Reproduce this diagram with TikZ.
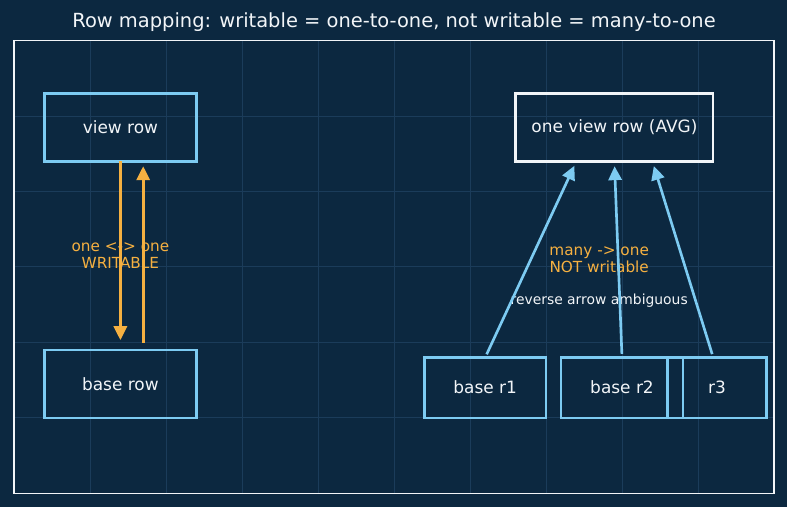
\documentclass[tikz,border=0pt]{standalone}
\usepackage{fontspec}
\setmainfont{DejaVu Sans}
\usetikzlibrary{arrows.meta,calc}

\definecolor{bgnavy}{HTML}{0C2840}
\definecolor{gridblue}{HTML}{1B3C5A}
\definecolor{rowblue}{HTML}{7DCBF2}
\definecolor{amber}{HTML}{F5B041}
\definecolor{paper}{HTML}{F2F5F8}

\begin{document}
\begin{tikzpicture}[x=54.72pt, y=54.29pt,
  every node/.style={font=\fontsize{12.2}{14}\selectfont, text=paper, inner sep=0pt, outer sep=0pt},
  rowbox/.style={draw=rowblue, line width=1.7pt, minimum width=87.6pt, minimum height=43.4pt},
  wide/.style={minimum width=109.4pt, minimum height=48.9pt},
  amberarr/.style={draw=amber, line width=1.9pt, -{Triangle[length=10pt,width=9.5pt]}},
  bluearr/.style={draw=rowblue, line width=1.9pt, -{Triangle[length=10pt,width=9.5pt]}, shorten <=2.5pt, shorten >=3.5pt},
  tag/.style={align=center, text=amber, font=\fontsize{11}{12.5}\selectfont}]
  \fill[bgnavy] (-0.184,-0.186) rectangle (10.171,6.54);
  \useasboundingbox (-0.184,-0.186) rectangle (10.171,6.54);
  \draw[gridblue, line width=0.7pt, step=1] (0,0) grid (10,6);
  \draw[paper, line width=0.8pt] (0,0) rectangle (10,6);
  \node[font=\fontsize{14}{16}\selectfont] (title) at (5,6.25) {Row mapping: writable = one-to-one, not writable = many-to-one};

  \node[rowbox, wide] (viewrow) at (1.4,4.85) {view row};
  \node[rowbox, wide] (baserow) at (1.4,1.45) {base row};
  \node[rowbox, wide, draw=paper, minimum width=142.3pt] (avgrow) at (7.9,4.85) {one view row (AVG)};
  \node[rowbox] (baseone) at (6.2,1.4) {base r1};
  \node[rowbox] (basetwo) at (8.0,1.4) {base r2};
  \node[rowbox, minimum width=71.1pt] (basethree) at (9.25,1.4) {r3};

  \node[tag] (onelabel) at (1.4,3.15) {one <-> one\\WRITABLE};
  \node[tag] (manylabel) at (7.7,3.1) {many -> one\\NOT writable};
  \node[font=\fontsize{10}{12}\selectfont] (revlabel) at (7.7,2.55) {reverse arrow ambiguous};

  \draw[amberarr, shorten >=7pt] (viewrow.south) -- (baserow.north);
  \draw[amberarr, shorten <=5pt, shorten >=3.5pt] ($(baserow.north)+(0.3,0)$) -- ($(viewrow.south)+(0.3,0)$);
  \draw[bluearr] (baseone.north) -- ($(avgrow.south)+(-0.5,0)$);
  \draw[bluearr] (basetwo.north) -- (avgrow.south);
  \draw[bluearr] ($(basethree.north)+(-0.05,0)$) -- ($(avgrow.south)+(0.5,0)$);
\end{tikzpicture}
\end{document}
